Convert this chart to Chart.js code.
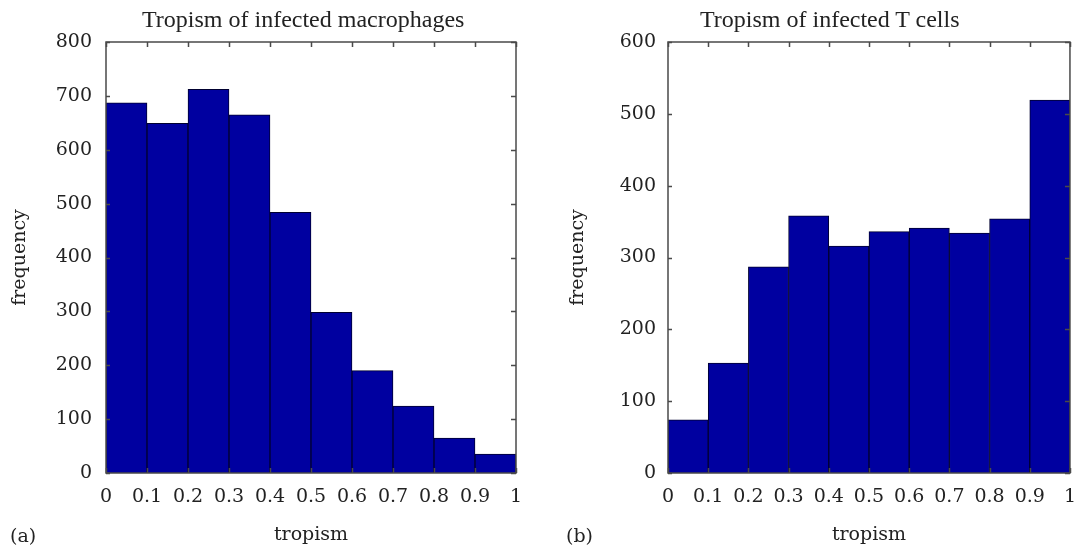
<!DOCTYPE html>
<html>
<head>
<meta charset="utf-8">
<script src="https://cdn.jsdelivr.net/npm/chart.js@4.4.1/dist/chart.umd.min.js"></script>
<style>
  body { margin: 0; background: #fff; }
  #wrap { position: relative; width: 1089px; height: 550px; overflow: hidden; font-family: "DejaVu Serif", serif; color: #222; }
  canvas { position: absolute; top: 0; }
  .txt { position: absolute; white-space: nowrap; line-height: 21px; }
  .ttl { font-family: "Liberation Serif", serif; font-size: 24px; line-height: 24px; top: 7px; }
</style>
</head>
<body>
<div id="wrap">
  <canvas id="macroChart" width="545" height="550" style="left:0"></canvas>
  <canvas id="tcellChart" width="544" height="550" style="left:545px"></canvas>
  <div class="txt ttl" style="left:142px;">Tropism of infected macrophages</div>
  <div class="txt ttl" style="left:700px;">Tropism of infected T cells</div>
  <div class="txt" style="left:10px; top:525px; font-size:19px;">(a)</div>
  <div class="txt" style="left:566px; top:525px; font-size:19px;">(b)</div>
</div>
<script>
const binCenters = [0.05, 0.15, 0.25, 0.35, 0.45, 0.55, 0.65, 0.75, 0.85, 0.95];
const macrophageCounts = [687, 649, 712, 665, 484, 298, 190, 124, 65, 35];
const tCellCounts = [74, 153, 287, 358, 316, 336, 341, 334, 354, 519];
const xTickValues = [0, 0.1, 0.2, 0.3, 0.4, 0.5, 0.6, 0.7, 0.8, 0.9, 1];
const xTickLabels = ['0', '0.1', '0.2', '0.3', '0.4', '0.5', '0.6', '0.7', '0.8', '0.9', '1'];

const serif = '"DejaVu Serif", serif';
const barFill = '#0000a0';
const boxColor = '#4a4a4a';

// box round the plot with short ticks pointing inwards on all four sides
const boxPlugin = {
  id: 'box',
  afterDatasetsDraw(chart) {
    const {ctx, chartArea: a, scales: {x, y}} = chart;
    ctx.save();
    ctx.strokeStyle = boxColor;
    ctx.lineWidth = 1.5;
    ctx.beginPath();
    x.ticks.forEach(t => {
      const px = Math.round(x.getPixelForValue(t.value)) + 0.5;
      ctx.moveTo(px, a.top); ctx.lineTo(px, a.top + 5);
      ctx.moveTo(px, a.bottom); ctx.lineTo(px, a.bottom - 5);
    });
    y.ticks.forEach(t => {
      const py = Math.round(y.getPixelForValue(t.value)) + 0.5;
      ctx.moveTo(a.left, py); ctx.lineTo(a.left + 4, py);
      ctx.moveTo(a.right, py); ctx.lineTo(a.right - 5, py);
    });
    ctx.stroke();
    ctx.strokeRect(a.left, a.top, a.right - a.left, a.bottom - a.top);
    ctx.restore();
  }
};

const makeHist = (canvasId, counts, yMax, axisWidth, rightPad, labelPad, yTitlePad) => {
  const ctx = document.getElementById(canvasId).getContext('2d');
  return new Chart(ctx, {
    type: 'bar',
    data: {
      datasets: [{
        data: binCenters.map((c, i) => ({x: c, y: counts[i]})),
        backgroundColor: barFill,
        borderColor: '#000030',
        borderWidth: 1,
        barPercentage: 1,
        categoryPercentage: 1
      }]
    },
    options: {
      responsive: false,
      animation: false,
      devicePixelRatio: 1,
      layout: { padding: { top: 42, left: 0, right: rightPad, bottom: 0 } },
      plugins: { legend: { display: false }, tooltip: { enabled: false } },
      scales: {
        x: {
          type: 'linear',
          offset: false,
          min: 0,
          max: 1,
          grid: { display: false, drawTicks: false },
          border: { display: false },
          afterBuildTicks: axis => { axis.ticks = xTickValues.map(v => ({value: v})); },
          afterFit: axis => { axis.height = 77; },
          ticks: {
            padding: 13,
            color: '#222',
            font: { family: serif, size: 19 },
            maxRotation: 0,
            autoSkip: false,
            callback: (v, i) => xTickLabels[i]
          },
          title: {
            display: true,
            text: 'tropism',
            color: '#222',
            font: { family: serif, size: 19 },
            padding: { top: 0, bottom: 4 }
          }
        },
        y: {
          min: 0,
          max: yMax,
          grid: { display: false, drawTicks: false },
          border: { display: false },
          afterFit: axis => { axis.width = axisWidth; },
          ticks: {
            stepSize: 100,
            padding: labelPad,
            color: '#222',
            font: { family: serif, size: 19 }
          },
          title: {
            display: true,
            text: 'frequency',
            color: '#222',
            font: { family: serif, size: 19 },
            padding: { top: yTitlePad, bottom: 0 }
          }
        }
      }
    },
    plugins: [boxPlugin]
  });
};

makeHist('macroChart', macrophageCounts, 800, 106, 29, 14, 9);
makeHist('tcellChart', tCellCounts, 600, 123, 11, 12, 22);
</script>
</body>
</html>
